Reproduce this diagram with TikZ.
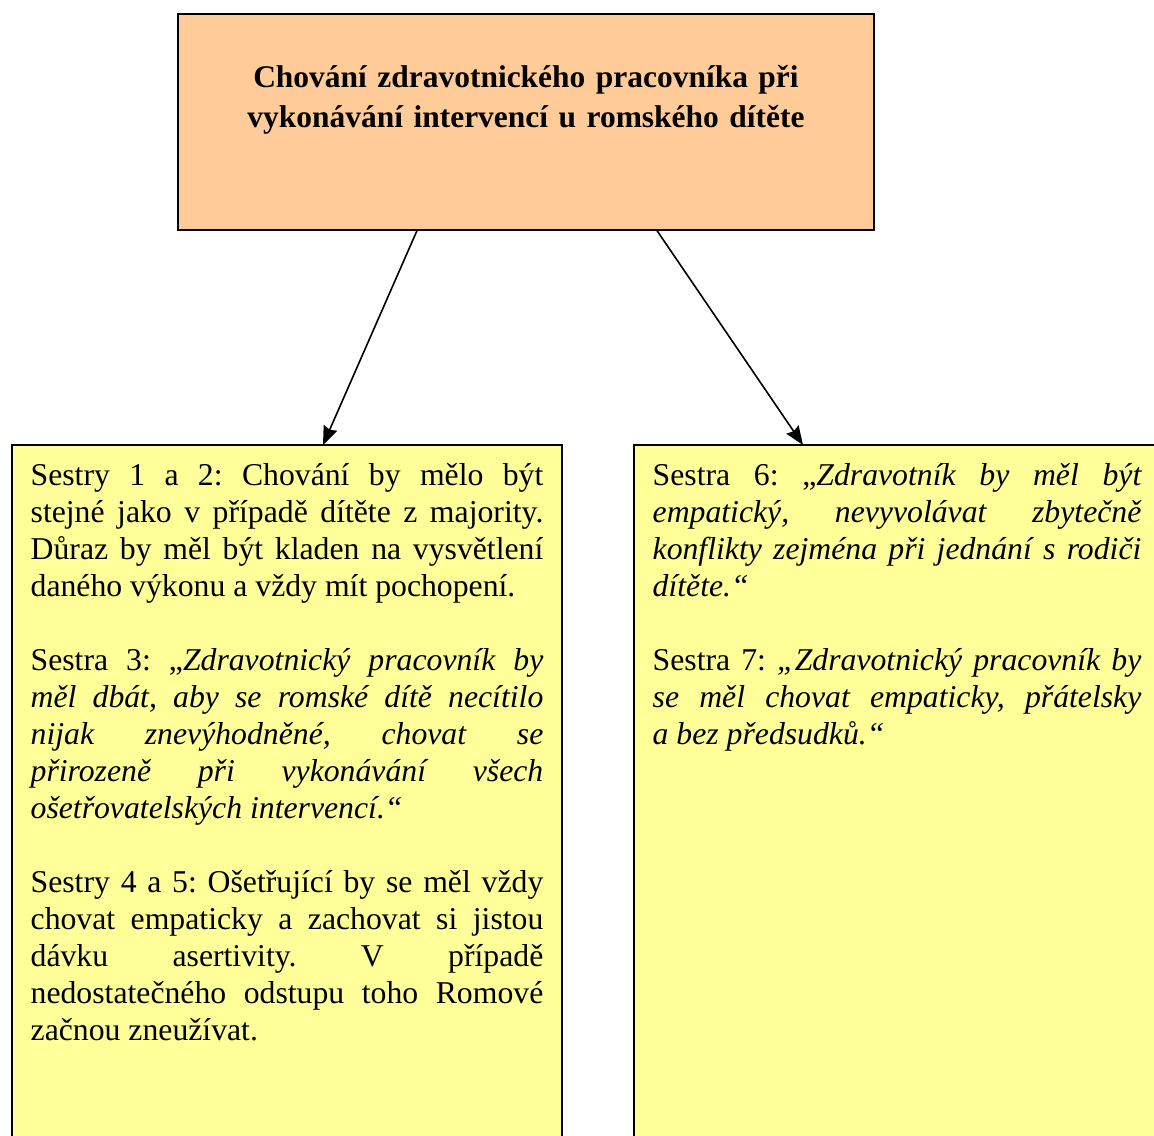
\documentclass[tikz,border=0pt]{standalone}
\usepackage{fontspec}
\setmainfont{Liberation Serif}
\usepackage{tikz}
\usetikzlibrary{arrows.meta}
\usetikzlibrary{positioning}
\definecolor{peach}{HTML}{FFCC99}
\definecolor{note}{HTML}{FFFF99}
\frenchspacing
\tolerance=9999
\hyphenpenalty=10000
\newcommand{\gap}{\par\vspace{\baselineskip}}

\begin{document}
\begin{tikzpicture}[x=0.75pt,y=-0.75pt,>={Stealth[length=14pt,width=11pt,inset=1.5pt]},line width=1.2pt]
\tikzstyle{head}=[draw,fill=peach,anchor=north,align=center,text width=480pt,minimum width=522pt,inner ysep=10.5pt,text height=45pt,text depth=96pt,font=\fontsize{23.6pt}{30pt}\selectfont\bfseries]
\tikzstyle{box}=[draw,fill=note,outer sep=0pt,align=justify,inner xsep=14pt,inner ysep=10.5pt,text height=19.5pt,text depth=525pt,font=\fontsize{23.8pt}{27.75pt}\selectfont]
\useasboundingbox (0,0) rectangle (1154,1136);
\clip (0,0) rectangle (1154,1136);
\node[head]	(T)	at (526,13)	{Chování zdravotnického pracovníka při\\vykonávání intervencí u romského dítěte};
\node[box, anchor=north west, text width=384.5pt]	(L)	at (12,445)	{Sestry 1 a 2: Chování by mělo být \linebreak stejné jako v případě dítěte z majority. \linebreak Důraz by měl být kladen na vysvětlení \linebreak daného výkonu a vždy mít pochopení.\gap
Sestra 3: „\textit{Zdravotnický pracovník by \linebreak měl dbát, aby se romské dítě necítilo \linebreak nijak znevýhodněné, chovat se \linebreak přirozeně při vykonávání všech \linebreak ošetřovatelských intervencí.“}\gap
Sestry 4 a 5: Ošetřující by se měl vždy \linebreak chovat empaticky a zachovat si jistou \linebreak dávku asertivity. V případě \linebreak nedostatečného odstupu toho Romové \linebreak začnou zneužívat.};
\node[box, text width=366.5pt]	(R)	[right=54pt of L]	{Sestra 6: „\textit{Zdravotník by měl být \linebreak empatický, nevyvolávat zbytečně \linebreak konflikty zejména při jednání s rodiči \linebreak dítěte.“}\gap
Sestra 7: \textit{„Zdravotnický pracovník by \linebreak se měl chovat empaticky, přátelsky \linebreak a bez předsudků.“}};
\draw[->]	([xshift=-81.75pt]T.south)	--	([xshift=27pt]L.north);
\draw[->]	([xshift=98.25pt]T.south)	--	([xshift=-70.5pt]R.north);
\end{tikzpicture}
\end{document}
